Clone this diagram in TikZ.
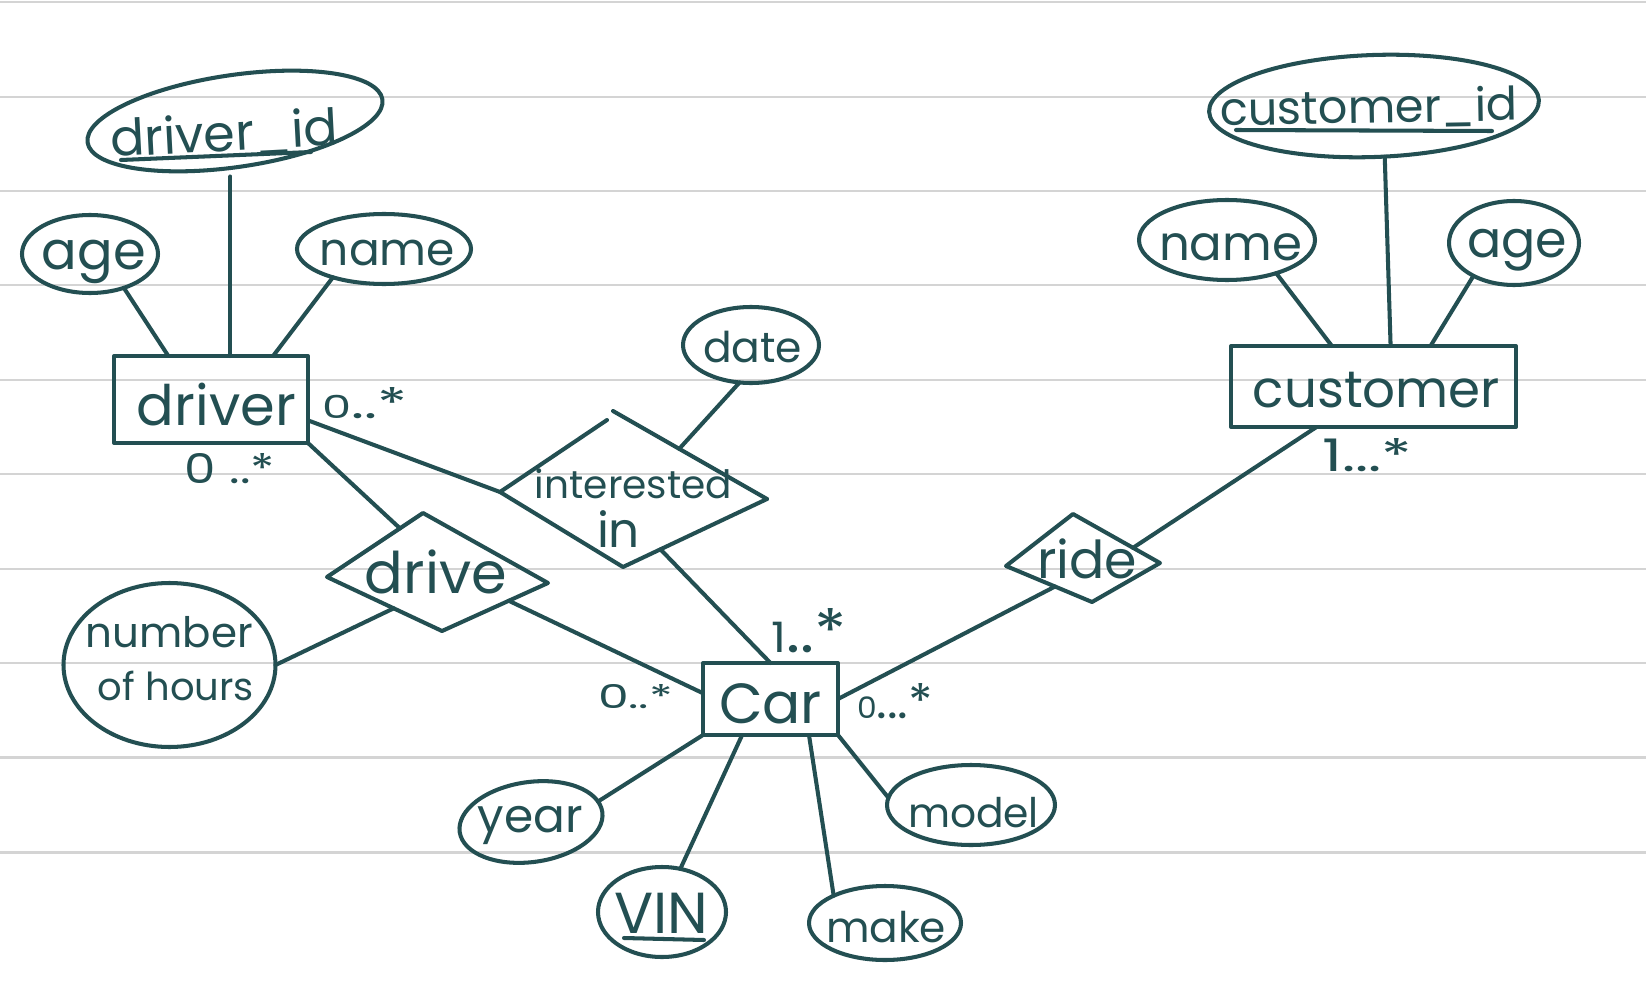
\documentclass[tikz,border=0pt]{standalone}
\usepackage{fontspec}
\setmainfont{Poppins}
\usetikzlibrary{shapes.geometric,calc}
\definecolor{ink}{RGB}{35,79,82}
\definecolor{rulegray}{RGB}{212,212,212}
\newlength\pxu
\setlength\pxu{0.02cm}
\newcommand\tw[2]{\resizebox{#1\pxu}{!}{#2}}
\newcommand\twh[3]{\resizebox{#1\pxu}{#2\pxu}{#3}}
\newcommand\smz[2]{\scalebox{#1}{#2}}
\begin{document}
\begin{tikzpicture}[x=0.02cm,y=-0.02cm,
 pen/.style={draw=ink,line width=2.3pt,line cap=round,line join=round},
 attr/.style={ellipse,pen,inner sep=0pt,outer sep=0pt},
 ent/.style={rectangle,pen,inner sep=0pt,outer sep=0pt},
 lbl/.style={inner sep=0pt,outer sep=0pt,text=ink,anchor=base},
 paper/.style={draw=rulegray,line width=1.7pt}]
\useasboundingbox (0,0) rectangle (1646,1000);
\fill[white] (0,0) rectangle (1646,1000);
\foreach \yy in {2,97,191,285,380,474,569,663,757,852}
  \draw[paper] (0,\yy) -- (1646,\yy);

% entities
\node[ent,minimum width=194*\pxu,minimum height=87*\pxu] (driver) at (211,399.5) {};
\node[ent,minimum width=285*\pxu,minimum height=81*\pxu] (customer) at (1373.5,386.5) {};
\node[ent,minimum width=135*\pxu,minimum height=72*\pxu] (car) at (770.5,699) {};

% attributes
\node[attr,rotate=8.3,minimum width=298*\pxu,minimum height=92*\pxu] (did) at (235,121) {};
\node[attr,minimum width=136*\pxu,minimum height=78*\pxu] (aged) at (90,254) {};
\node[attr,minimum width=174*\pxu,minimum height=70*\pxu] (named) at (384,249) {};
\node[attr,rotate=2,minimum width=330*\pxu,minimum height=102*\pxu] (cid) at (1374,106) {};
\node[attr,minimum width=176*\pxu,minimum height=80*\pxu] (namec) at (1227,240) {};
\node[attr,minimum width=130*\pxu,minimum height=84*\pxu] (agec) at (1514,243) {};
\node[attr,minimum width=136*\pxu,minimum height=76*\pxu] (date) at (751,345) {};
\node[attr,minimum width=212*\pxu,minimum height=164*\pxu] (hours) at (169.5,665) {};
\node[attr,rotate=8,minimum width=144*\pxu,minimum height=80*\pxu] (year) at (531,822) {};
\node[attr,minimum width=128*\pxu,minimum height=90*\pxu] (vin) at (662,912) {};
\node[attr,minimum width=152*\pxu,minimum height=74*\pxu] (make) at (885,923) {};
\node[attr,minimum width=168*\pxu,minimum height=80*\pxu] (model) at (971,805) {};

% relationship diamonds
\coordinate (iL) at (500,492);
\coordinate (iT) at (613,411);
\coordinate (iTl) at (607,420);
\coordinate (iR) at (767,499);
\coordinate (iB) at (623,567);
\draw[pen] (iTl) -- (iL) -- (iB) -- (iR);
\draw[pen] (iT) -- (iR);
\coordinate (dL) at (327,577);
\coordinate (dT) at (423,513);
\coordinate (dR) at (548,583);
\coordinate (dB) at (442,631);
\draw[pen] (dL) -- (dT) -- (dR) -- (dB) -- cycle;
\coordinate (rL) at (1006,566);
\coordinate (rT) at (1073,514);
\coordinate (rR) at (1160,563);
\coordinate (rB) at (1092,602);
\draw[pen] (rL) -- (rT) -- (rR) -- (rB) -- cycle;

% labels
\node[lbl,rotate=3] (didT) at (225,151) {\tw{228}{driver\_id}};
\draw[pen] (121,160) -- (311,152);
\node[lbl] (agedT) at (94,270) {\tw{104}{age}};
\node[lbl] (namedT) at (387.5,265) {\tw{135}{name}};
\node[lbl,rotate=1] (cidT) at (1369,123) {\tw{298}{customer\_id}};
\draw[pen] (1236,130) -- (1492,131);
\node[lbl] (namecT) at (1230.5,260) {\tw{143}{name}};
\node[lbl] (agecT) at (1517,257) {\tw{100}{age}};
\node[lbl] (customerT) at (1376.5,407) {\tw{247}{customer}};
\node[lbl] (driverT) at (216.5,425) {\tw{159}{driver}};
\node[lbl] (carT) at (770.5,723) {\tw{103}{Car}};
\node[lbl] (dateT) at (752.5,362) {\tw{99}{date}};
\node[lbl] (numT) at (169.5,647) {\tw{167}{number}};
\node[lbl] (ofhT) at (176,700) {\tw{156}{of hours}};
\node[lbl] (yearT) at (530.5,832) {\tw{105}{year}};
\node[lbl] (vinT) at (661,933) {\tw{94}{VIN}};
\draw[pen] (624,938) -- (704,940);
\node[lbl] (makeT) at (886,942) {\tw{120}{make}};
\node[lbl] (modelT) at (973.5,827) {\tw{131}{model}};
\node[lbl] (intT) at (633.5,498) {\tw{197}{interested}};
\node[lbl] (inT) at (618.5,547) {\tw{43}{in}};
\node[lbl] (driveT) at (436,593) {\tw{142}{drive}};
\node[lbl] (rideT) at (1087,578) {\tw{100}{ride}};
\node[lbl] (m1) at (364.5,418) {\twh{85}{31}{\smz{0.75}{0}..*}};
\node[lbl] (m2) at (230,483) {\twh{90}{30}{0 ..*}};
\node[lbl] (m3) at (635.5,708) {\twh{75}{24}{0..*}};
\node[lbl] (m4) at (895,718) {\twh{76}{35}{\smz{0.62}{0}...*}};
\node[lbl] (m5) at (809.5,652) {\twh{75}{44}{\smz{0.7}{1}..*}};
\node[lbl] (m6) at (1367,471) {\twh{90}{33}{1...*}};

% connectors
\draw[pen] (aged.-45) -- ($(driver.north west)!0.28!(driver.north east)$);
\coordinate (didTop) at ($(driver.north west)!0.6!(driver.north east)$);
\draw[pen,shorten >=0.2cm] (didTop) -- (didTop |- did.south);
\draw[pen] (named.-151) -- ($(driver.north west)!0.82!(driver.north east)$);
\draw[pen] ($(driver.north east)!0.74!(driver.south east)$) -- (iL);
\draw[pen] (driver.south east) -- ($(dL)!0.76!(dT)$);
\draw[pen] (date.-107) -- ($(iT)!0.43!(iR)$);
\draw[pen] ($(iB)!0.26!(iR)$) -- (car.north);
\draw[pen] ($(dL)!0.58!(dB)$) -- (hours.east);
\draw[pen] ($(dB)!0.63!(dR)$) -- ($(car.north west)!0.42!(car.south west)$);
\draw[pen] ($(customer.south west)!0.30!(customer.south east)$) -- ($(rT)!0.69!(rR)$);
\draw[pen] ($(rL)!0.57!(rB)$) -- (car.east);
\coordinate (cidTop) at ($(customer.north west)!0.56!(customer.north east)$);
\draw[pen] (cid.-80) -- (cidTop);
\draw[pen] (namec.-34) -- ($(customer.north west)!0.354!(customer.north east)$);
\draw[pen] (agec.-141) -- ($(customer.north west)!0.70!(customer.north east)$);
\draw[pen] (car.south west) -- (year.9);
\draw[pen] ($(car.south west)!0.29!(car.south east)$) -- (vin.67);
\draw[pen] ($(car.south west)!0.785!(car.south east)$) -- (make.152);
\draw[pen] (car.south east) -- (model.175);
\end{tikzpicture}
\end{document}
